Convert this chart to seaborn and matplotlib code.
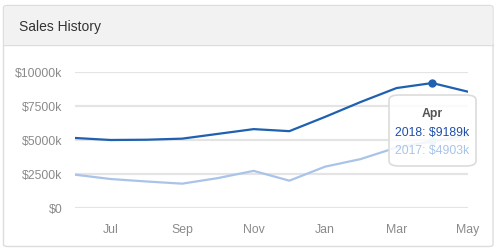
import matplotlib
matplotlib.use("Agg")
import matplotlib.pyplot as plt
from matplotlib.patches import FancyBboxPatch
import seaborn as sns
import pandas as pd

months = ["Jun", "Jul", "Aug", "Sep", "Oct", "Nov", "Dec", "Jan", "Feb", "Mar", "Apr", "May"]
sales_2018 = [5150, 5000, 5020, 5100, 5450, 5800, 5650, 6700, 7800, 8820, 9189, 8550]
sales_2017 = [2450, 2130, 1950, 1790, 2200, 2730, 2010, 3040, 3600, 4450, 4903, 5350]
y_ticks = [0, 2500, 5000, 7500, 10000]
y_tick_labels = ["$0", "$2500k", "$5000k", "$7500k", "$10000k"]
x_tick_labels = ["Jul", "Sep", "Nov", "Jan", "Mar", "May"]
tooltip_month = "Apr"

c2018 = "#1f60b0"
c2017 = "#a9c4e8"

plt.rcParams["font.family"] = ["Liberation Sans", "DejaVu Sans"]

W, H = 498, 253
fig = plt.figure(figsize=(W / 100, H / 100), dpi=100)
fig.patch.set_facecolor("white")

def fx(px):
    return px / W

def fy(py):
    return 1 - py / H

# panel
panel = FancyBboxPatch((fx(3.5), fy(247.5)), fx(493 - 3.5), (247.5 - 6.5) / H,
                       boxstyle="round,pad=0,rounding_size=0.008",
                       transform=fig.transFigure, facecolor="white",
                       edgecolor="#dddddd", linewidth=1.0, zorder=0)
fig.patches.append(panel)
header = FancyBboxPatch((fx(4), fy(45.5)), fx(492.5 - 4), (45.5 - 7) / H,
                        boxstyle="round,pad=0,rounding_size=0.006",
                        transform=fig.transFigure, facecolor="#f2f2f2",
                        edgecolor="none", zorder=0.5)
fig.patches.append(header)
fig.add_artist(plt.Line2D([fx(3.5), fx(493)], [fy(45.5), fy(45.5)],
                          transform=fig.transFigure, color="#dddddd", lw=1.0,
                          zorder=1))
fig.text(fx(19), fy(27), "Sales History", fontsize=10, color="#333333",
         va="center", ha="left", zorder=2)

# axes: x 75..468, y 73..209
ax = fig.add_axes([fx(75), fy(209), fx(468 - 75), (209 - 73) / H])
ax.set_zorder(5)
ax.set_facecolor("none")
ax.patch.set_alpha(0)

df = pd.DataFrame({
    "idx": list(range(len(months))) * 2,
    "value": sales_2018 + sales_2017,
    "series": ["2018"] * len(months) + ["2017"] * len(months),
})
sns.lineplot(data=df, x="idx", y="value", hue="series",
             palette={"2018": c2018, "2017": c2017}, linewidth=1.6,
             legend=False, ax=ax, zorder=3)

ax.set_xlim(0, len(months) - 1)
ax.set_ylim(0, 10000)
ax.set_yticks(y_ticks)
ax.set_yticklabels(y_tick_labels)
xt = [months.index(m) for m in x_tick_labels]
ax.set_xticks(xt)
ax.set_xticklabels(x_tick_labels)
ax.tick_params(axis="both", length=0, labelsize=8.8, labelcolor="#8a8a8a")
ax.tick_params(axis="y", pad=9)
ax.tick_params(axis="x", pad=11)
for s in ax.spines.values():
    s.set_visible(False)
ax.grid(False)
for t in y_ticks:
    ax.axhline(t, color="#e4e4e4", lw=1.6, zorder=1)
ax.set_xlabel("")
ax.set_ylabel("")

# hover markers
ti = months.index(tooltip_month)
ax.plot([ti], [sales_2018[ti]], "o", color=c2018, ms=5, zorder=4)
ax.plot([ti], [sales_2017[ti]], "o", color=c2017, ms=5, zorder=4)

# tooltip
tip = FancyBboxPatch((fx(389), fy(167)), fx(476 - 389), (167 - 96) / H,
                     boxstyle="round,pad=0,rounding_size=0.02",
                     transform=fig.transFigure, facecolor=(1, 1, 1, 0.85),
                     edgecolor="#dcdcdc", linewidth=1.2, zorder=10)
fig.patches.append(tip)
fig.text(fx(432), fy(114), tooltip_month, fontsize=8.8, fontweight="bold",
         color="#555555", ha="center", va="center", zorder=11)
fig.text(fx(432), fy(133), f"2018: ${sales_2018[ti]}k", fontsize=8.8,
         color="#1f4fa8", ha="center", va="center", zorder=11)
fig.text(fx(432), fy(151), f"2017: ${sales_2017[ti]}k", fontsize=8.8,
         color=c2017, ha="center", va="center", zorder=11)

fig.savefig("out.png", dpi=100)
